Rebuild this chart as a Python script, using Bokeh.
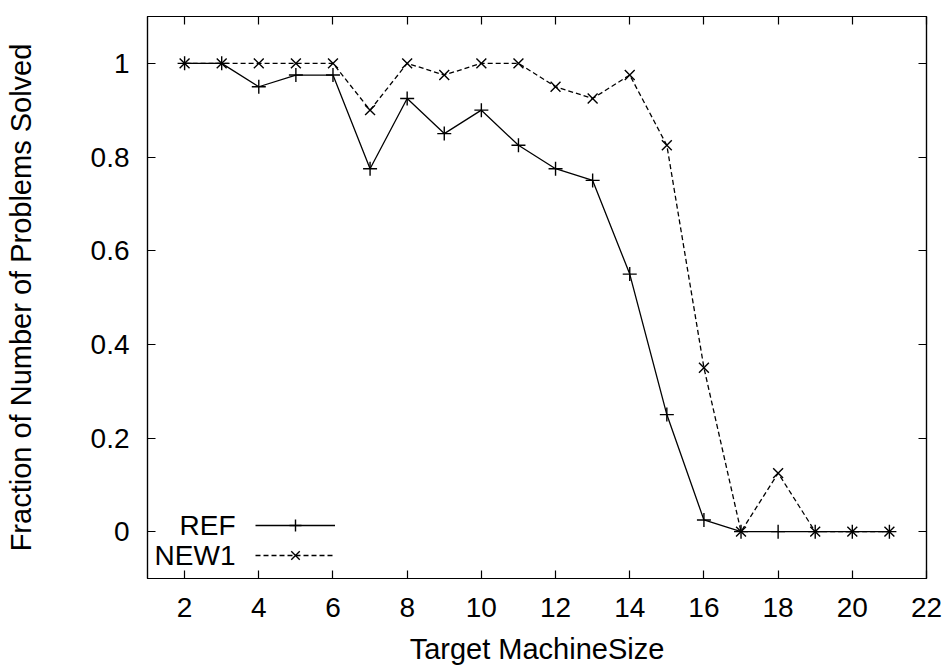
from bokeh.plotting import figure
from bokeh.models import (LinearAxis, FixedTicker, Range1d, Legend, LegendItem, Label)
from bokeh.embed import file_html
from bokeh.resources import INLINE

sizes = list(range(2, 22))
ref = [1, 1, 0.95, 0.975, 0.975, 0.775, 0.925, 0.85, 0.9, 0.825,
       0.775, 0.75, 0.55, 0.25, 0.025, 0, 0, 0, 0, 0]
new1 = [1, 1, 1, 1, 1, 0.9, 1, 0.975, 1, 1,
        0.95, 0.925, 0.975, 0.825, 0.35, 0, 0.125, 0, 0, 0]
x_ticks = list(range(2, 23, 2))
y_ticks = [0, 0.2, 0.4, 0.6, 0.8, 1]
y_tick_labels = ["0", "0.2", "0.4", "0.6", "0.8", "1"]

FONT = "Liberation Sans"
TICK_FS = "28px"
LABEL_FS = "29px"

p = figure(width=947, height=668, output_backend="svg", toolbar_location=None,
           x_range=Range1d(1, 22), y_range=Range1d(-0.1, 1.1),
           min_border_left=147, min_border_right=21, min_border_top=16,
           min_border_bottom=90, x_axis_label="Target MachineSize",
           y_axis_label="Fraction of Number of Problems Solved")
p.grid.visible = False
p.outline_line_color = "black"
p.outline_line_width = 1.2
p.background_fill_color = "white"
p.border_fill_color = "white"

r1 = p.line(sizes, ref, line_color="black", line_width=1.3)
m1 = p.scatter(sizes, ref, marker="cross", size=14, line_color="black", line_width=1.4)
r2 = p.line(sizes, new1, line_color="black", line_width=1.3, line_dash="5 3")
m2 = p.scatter(sizes, new1, marker="x", size=14, line_color="black", line_width=1.4)

def style(ax, ticks, labels=True):
    ax.ticker = FixedTicker(ticks=ticks)
    ax.major_tick_in = 8
    ax.major_tick_out = 0
    ax.minor_tick_line_color = None
    ax.axis_line_color = "black"
    ax.axis_line_width = 1.2
    ax.major_tick_line_color = "black"
    ax.major_tick_line_width = 1.2
    ax.major_label_text_font = FONT
    ax.major_label_text_font_size = TICK_FS
    ax.major_label_text_color = "black" if labels else None
    ax.axis_label_text_font = FONT
    ax.axis_label_text_font_size = LABEL_FS
    ax.axis_label_text_font_style = "normal"
    ax.axis_label_text_color = "black"

xa = p.xaxis[0]
style(xa, x_ticks)
xa.major_label_standoff = 19
xa.axis_label_standoff = 13
ya = p.yaxis[0]
style(ya, y_ticks)
ya.major_label_overrides = {t: l for t, l in zip(y_ticks, y_tick_labels)}
ya.major_label_standoff = 18
ya.axis_label_standoff = 51

top = LinearAxis()
style(top, x_ticks, labels=False)
top.major_label_text_font_size = "0px"
top.major_label_standoff = 0
p.add_layout(top, "above")
right = LinearAxis()
style(right, y_ticks, labels=False)
right.major_label_text_font_size = "0px"
right.major_label_standoff = 0
p.add_layout(right, "right")

legend = Legend(items=[LegendItem(label=" ", renderers=[r1, m1]),
                       LegendItem(label=" ", renderers=[r2, m2])],
                location=(108, 8), glyph_width=80, glyph_height=30,
                spacing=0, padding=0, margin=0, label_standoff=0,
                label_width=1, label_height=30, label_text_font_size="1px",
                border_line_color=None, background_fill_alpha=0)
p.add_layout(legend, "center")

for txt, yy in [("REF", 53), ("NEW1", 23)]:
    p.add_layout(Label(x=88, y=yy, x_units="screen", y_units="screen", text=txt,
                       text_align="right", text_baseline="middle",
                       text_font=FONT, text_font_size=TICK_FS, text_color="black"))

open("out.html", "w").write(file_html(p, INLINE))
